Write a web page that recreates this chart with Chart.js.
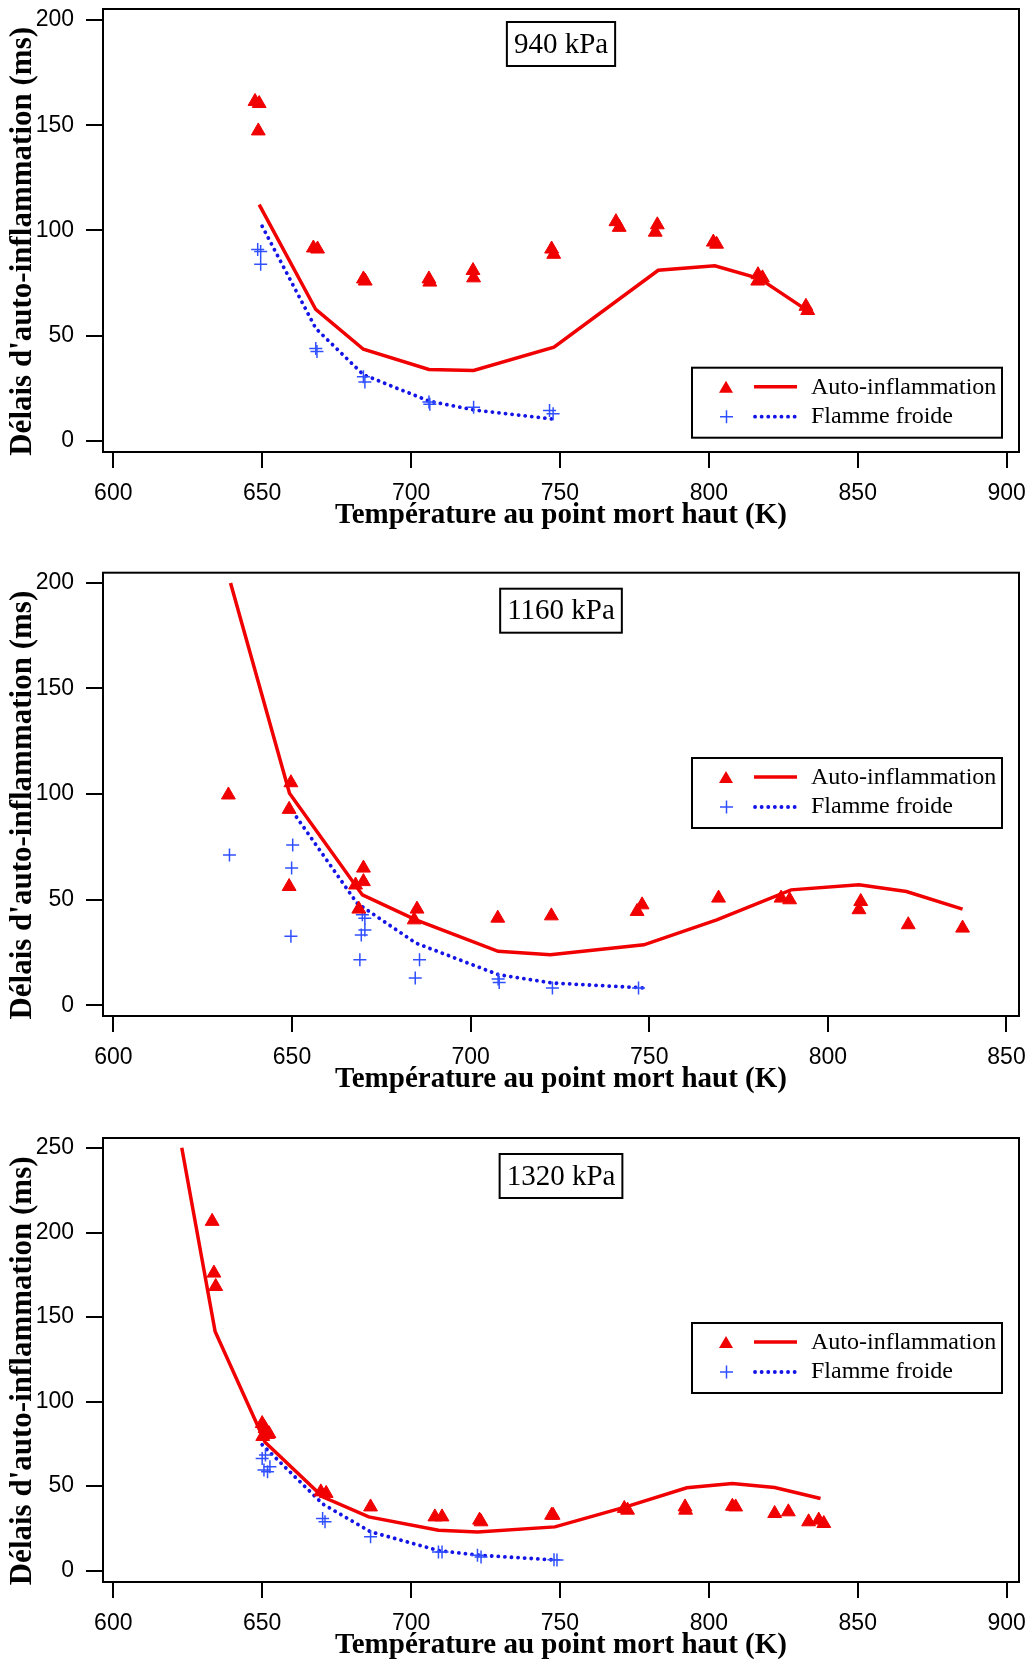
<!DOCTYPE html>
<html>
<head>
<meta charset="utf-8">
<script src="https://cdn.jsdelivr.net/npm/chart.js@4.4.1/dist/chart.umd.min.js"></script>
<style>
  html, body { margin: 0; padding: 0; background: #fff; overflow: hidden; }
  canvas { position: absolute; left: 0; }
</style>
</head>
<body>
<canvas id="c940" width="1032" height="530" style="top:0px"></canvas>
<canvas id="c1160" width="1032" height="554" style="top:540px"></canvas>
<canvas id="c1320" width="1032" height="560" style="top:1100px"></canvas>
<script>
// Libellés
const xTitle = 'Température au point mort haut (K)';
const yTitle = "Délais d'auto-inflammation (ms)";
const legendLabels = ['Auto-inflammation', 'Flamme froide'];
const pressures = ['940 kPa', '1160 kPa', '1320 kPa'];

// Graduations
const xTicksWide = [600, 650, 700, 750, 800, 850, 900];
const xTicksNarrow = [600, 650, 700, 750, 800, 850];
const yTicks200 = [0, 50, 100, 150, 200];
const yTicks250 = [0, 50, 100, 150, 200, 250];

// 940 kPa : mesures auto-inflammation
const p940TriX = [647.6, 649.0, 648.7, 667.2, 668.6, 684.0, 684.6, 706.0, 706.3, 720.8, 721.0, 747.2, 747.9, 768.8, 769.9, 782.7, 782.0, 801.5, 802.6, 816.5, 818.0, 816.4, 832.6, 833.2];
const p940TriY = [161.3, 160.3, 147.3, 91.7, 91.2, 77.0, 76.0, 77.0, 75.5, 81.0, 77.5, 91.2, 88.7, 104.2, 101.5, 102.7, 99.2, 94.5, 93.5, 79.0, 77.5, 76.0, 64.0, 62.0];
// 940 kPa : modèle auto-inflammation
const p940LineX = [649, 668, 684, 706, 721, 748, 783, 802, 817, 832];
const p940LineY = [112.3, 62.5, 43.6, 34.0, 33.5, 44.6, 81.1, 83.2, 77.2, 63.0];
// 940 kPa : flamme froide
const p940CrossX = [648.5, 649.5, 649.5, 668.0, 668.4, 684.0, 684.5, 706.0, 706.3, 721.0, 746.5, 747.7];
const p940CrossY = [91.0, 90.0, 84.0, 44.0, 42.5, 30.5, 28.0, 18.5, 17.5, 16.0, 14.5, 13.0];
const p940DotX = [650, 668, 684, 706, 721, 748];
const p940DotY = [102.0, 53.5, 31.5, 19.0, 14.8, 10.4];

// 1160 kPa
const p1160TriX = [632.2, 649.7, 649.2, 649.2, 670.0, 670.0, 667.8, 668.7, 685.0, 684.2, 707.6, 722.6, 748.0, 746.6, 769.4, 786.9, 789.3, 809.2, 808.7, 822.5, 837.7];
const p1160TriY = [99.5, 105.3, 92.7, 56.2, 64.9, 58.5, 56.9, 45.5, 45.5, 40.4, 41.2, 42.3, 47.5, 44.4, 50.7, 50.7, 49.9, 49.1, 45.2, 38.1, 36.5];
const p1160LineX = [632.8, 649.3, 669.7, 684.7, 707.7, 722.3, 748.5, 768.9, 789.7, 808.7, 822.0, 837.7];
const p1160LineY = [199.8, 100.3, 52.2, 40.4, 25.5, 23.9, 28.6, 40.4, 54.6, 57.0, 53.8, 45.5];
const p1160CrossX = [632.5, 650.2, 649.9, 649.7, 669.7, 670.4, 669.4, 670.4, 669.0, 685.7, 684.5, 707.7, 708.0, 722.9, 747.0];
const p1160CrossY = [71.1, 75.8, 64.9, 32.6, 42.8, 41.2, 33.2, 35.6, 21.5, 21.5, 12.9, 12.4, 10.8, 8.2, 8.2];
const p1160DotX = [650.2, 668.2, 684.7, 707.7, 722.9, 748.5];
const p1160DotY = [91.6, 48.3, 29.4, 14.5, 10.5, 8.2];

// 1320 kPa
const p1320TriX = [633.2, 633.8, 634.4, 650.0, 651.0, 651.8, 650.2, 652.3, 669.7, 671.5, 686.4, 708.0, 710.4, 723.0, 723.5, 747.2, 747.7, 771.6, 772.7, 792.0, 792.2, 807.9, 809.0, 822.1, 826.7, 833.5, 836.9, 838.6];
const p1320TriY = [206.6, 176.0, 168.1, 87.0, 84.0, 80.6, 79.4, 81.0, 46.6, 45.7, 37.7, 31.8, 31.8, 29.9, 28.9, 32.8, 32.8, 36.8, 35.8, 37.7, 35.8, 38.1, 37.7, 33.8, 34.8, 28.9, 29.9, 27.9];
const p1320LineX = [623.0, 634.2, 651.0, 670.3, 685.8, 709.2, 722.3, 748.3, 772.1, 792.6, 807.9, 822.1, 837.5];
const p1320LineY = [250.1, 141.4, 76.0, 43.7, 31.8, 23.9, 22.9, 25.9, 37.7, 49.0, 51.6, 49.2, 42.7];
const p1320CrossX = [650.0, 651.1, 651.8, 650.6, 652.6, 670.3, 671.1, 686.4, 709.2, 710.4, 722.3, 723.5, 748.0, 749.0];
const p1320CrossY = [66.4, 68.4, 58.5, 59.5, 61.4, 30.9, 28.9, 20.0, 11.1, 11.1, 9.1, 8.1, 6.5, 6.3];
const p1320DotX = [650.0, 670.3, 686.4, 709.2, 722.3, 748.5];
const p1320DotY = [74.5, 39.5, 23.0, 11.9, 9.2, 6.3];

const RED = '#f00000';
const BLUE = '#1414e6';
const CROSS_BLUE = '#3050ff';
const SANS = '"Liberation Sans", Arial, sans-serif';
const SERIF = '"Liberation Serif", "Times New Roman", serif';

function pts(xs, ys) {
    return xs.map((x, i) => ({ x: x, y: ys[i] }));
}

// Cadre autour de la zone de tracé
const framePlugin = {
    id: 'frame',
    afterDraw(chart) {
        const { ctx, chartArea: a } = chart;
        ctx.save();
        ctx.strokeStyle = '#000';
        ctx.lineWidth = 2;
        ctx.strokeRect(a.left, a.top, a.right - a.left, a.bottom - a.top);
        ctx.restore();
    }
};

// Encadré de pression
const pressurePlugin = {
    id: 'pressureBox',
    afterDraw(chart, args, opts) {
        const { ctx, chartArea: a } = chart;
        ctx.save();
        ctx.font = '29px ' + SERIF;
        const tw = ctx.measureText(opts.text).width;
        const w = tw + 14, h = 44;
        const cx = (a.left + a.right) / 2;
        const cy = a.top + opts.top;
        ctx.fillStyle = '#fff';
        ctx.fillRect(cx - w / 2, cy - h / 2, w, h);
        ctx.strokeStyle = '#000';
        ctx.lineWidth = 2;
        ctx.strokeRect(cx - w / 2, cy - h / 2, w, h);
        ctx.fillStyle = '#000';
        ctx.textAlign = 'center';
        ctx.textBaseline = 'middle';
        ctx.fillText(opts.text, cx, cy + 1);
        ctx.restore();
    }
};

// Légende : symbole + trait pour chaque série
const pairLegendPlugin = {
    id: 'pairLegend',
    afterDraw(chart, args, opts) {
        const { ctx, chartArea: a } = chart;
        const ds = chart.data.datasets;
        const w = 310, h = 70;
        const x0 = a.right - 17 - w;
        const y0 = a.top + opts.top;
        ctx.save();
        ctx.fillStyle = '#fff';
        ctx.fillRect(x0, y0, w, h);
        ctx.strokeStyle = '#000';
        ctx.lineWidth = 2;
        ctx.strokeRect(x0, y0, w, h);

        const r1 = y0 + 20, r2 = y0 + 49;
        // triangle
        ctx.fillStyle = ds[0].backgroundColor;
        ctx.beginPath();
        ctx.moveTo(x0 + 34, r1 - 7);
        ctx.lineTo(x0 + 41, r1 + 5);
        ctx.lineTo(x0 + 27, r1 + 5);
        ctx.closePath();
        ctx.fill();
        // trait plein
        ctx.strokeStyle = ds[1].borderColor;
        ctx.lineWidth = ds[1].borderWidth;
        ctx.beginPath();
        ctx.moveTo(x0 + 62, r1 - 1);
        ctx.lineTo(x0 + 105, r1 - 1);
        ctx.stroke();
        // croix
        ctx.strokeStyle = ds[2].borderColor;
        ctx.lineWidth = 1.5;
        ctx.beginPath();
        ctx.moveTo(x0 + 28, r2);
        ctx.lineTo(x0 + 41, r2);
        ctx.moveTo(x0 + 34.5, r2 - 6.5);
        ctx.lineTo(x0 + 34.5, r2 + 6.5);
        ctx.stroke();
        // pointillé
        ctx.strokeStyle = ds[3].borderColor;
        ctx.lineWidth = ds[3].borderWidth;
        ctx.lineCap = 'round';
        ctx.setLineDash(ds[3].borderDash);
        ctx.beginPath();
        ctx.moveTo(x0 + 63, r2);
        ctx.lineTo(x0 + 104, r2);
        ctx.stroke();
        ctx.setLineDash([]);

        ctx.fillStyle = '#000';
        ctx.font = '24px ' + SERIF;
        ctx.textBaseline = 'middle';
        ctx.textAlign = 'left';
        ctx.fillText(ds[0].label, x0 + 119, r1);
        ctx.fillText(ds[2].label, x0 + 119, r2);
        ctx.restore();
    }
};

function xAxis(min, max, ticks) {
    return {
        type: 'linear',
        min: min,
        max: max,
        afterBuildTicks: s => { s.ticks = ticks.map(v => ({ value: v })); },
        afterFit: s => { s.height = 78; s.paddingLeft = 0; s.paddingRight = 0; },
        border: { display: false },
        grid: { drawOnChartArea: false, drawTicks: true, tickLength: 16, color: '#000', lineWidth: 2 },
        ticks: {
            color: '#000', padding: 12, maxRotation: 0, autoSkip: false,
            font: { family: SANS, size: 23, lineHeight: 1.2 }
        },
        title: {
            display: true, text: xTitle, color: '#000',
            font: { family: SERIF, size: 29, weight: 'bold', lineHeight: 1 },
            padding: { top: 0, bottom: 0 }
        }
    };
}

function yAxis(min, max, ticks) {
    return {
        type: 'linear',
        min: min,
        max: max,
        afterBuildTicks: s => { s.ticks = ticks.map(v => ({ value: v })); },
        afterFit: s => { s.width = 103; s.paddingTop = 0; s.paddingBottom = 0; },
        border: { display: false },
        grid: { drawOnChartArea: false, drawTicks: true, tickLength: 17, color: '#000', lineWidth: 2 },
        ticks: {
            color: '#000', padding: 12,
            font: { family: SANS, size: 23, lineHeight: 1.2 }
        },
        title: {
            display: true, text: yTitle + '\u2002\u2009', color: '#000',
            font: { family: SERIF, size: 31, weight: 'bold', lineHeight: 1 },
            padding: { top: 7, bottom: 0 }
        }
    };
}

function makeChart(id, p) {
    const ctx = document.getElementById(id).getContext('2d');
    return new Chart(ctx, {
        type: 'scatter',
        data: {
            datasets: [
                {
                    label: legendLabels[0], data: pts(p.triX, p.triY),
                    pointStyle: 'triangle', pointRadius: 8, pointHoverRadius: 8,
                    backgroundColor: RED, borderColor: RED, borderWidth: 1, showLine: false
                },
                {
                    label: legendLabels[0], data: pts(p.lineX, p.lineY),
                    showLine: true, pointRadius: 0, borderColor: RED, backgroundColor: RED,
                    borderWidth: 3.5, tension: 0, fill: false
                },
                {
                    label: legendLabels[1], data: pts(p.crossX, p.crossY),
                    pointStyle: 'cross', pointRadius: 6.5, pointHoverRadius: 6.5,
                    borderColor: CROSS_BLUE, backgroundColor: CROSS_BLUE, borderWidth: 1.5, showLine: false
                },
                {
                    label: legendLabels[1], data: pts(p.dotX, p.dotY),
                    showLine: true, pointRadius: 0, borderColor: BLUE, backgroundColor: BLUE,
                    borderWidth: 3.8, borderDash: [0.1, 6.5], borderCapStyle: 'round',
                    tension: 0, fill: false
                }
            ]
        },
        options: {
            responsive: false,
            animation: false,
            events: [],
            layout: { padding: { top: p.padTop, right: 13, left: 0, bottom: 0 } },
            scales: {
                x: xAxis(p.xMin, p.xMax, p.xTicks),
                y: yAxis(p.yMin, p.yMax, p.yTicks)
            },
            plugins: {
                legend: { display: false },
                tooltip: { enabled: false },
                pressureBox: { text: p.label, top: p.boxTop },
                pairLegend: { top: p.legendTop }
            }
        },
        plugins: [framePlugin, pressurePlugin, pairLegendPlugin]
    });
}

makeChart('c940', {
    label: pressures[0], padTop: 7.3, legendTop: 358.7, boxTop: 35,
    xMin: 596.55, xMax: 904.15, xTicks: xTicksWide,
    yMin: -5.2, yMax: 205.2, yTicks: yTicks200,
    triX: p940TriX, triY: p940TriY, lineX: p940LineX, lineY: p940LineY,
    crossX: p940CrossX, crossY: p940CrossY, dotX: p940DotX, dotY: p940DotY
});

makeChart('c1160', {
    label: pressures[1], padTop: 32.7, legendTop: 185.3, boxTop: 38,
    xMin: 597.1, xMax: 853.5, xTicks: xTicksNarrow,
    yMin: -5.1, yMax: 204.7, yTicks: yTicks200,
    triX: p1160TriX, triY: p1160TriY, lineX: p1160LineX, lineY: p1160LineY,
    crossX: p1160CrossX, crossY: p1160CrossY, dotX: p1160DotX, dotY: p1160DotY
});

makeChart('c1320', {
    label: pressures[2], padTop: 38, legendTop: 185, boxTop: 38,
    xMin: 596.55, xMax: 904.15, xTicks: xTicksWide,
    yMin: -6.7, yMax: 255.9, yTicks: yTicks250,
    triX: p1320TriX, triY: p1320TriY, lineX: p1320LineX, lineY: p1320LineY,
    crossX: p1320CrossX, crossY: p1320CrossY, dotX: p1320DotX, dotY: p1320DotY
});
</script>
</body>
</html>
